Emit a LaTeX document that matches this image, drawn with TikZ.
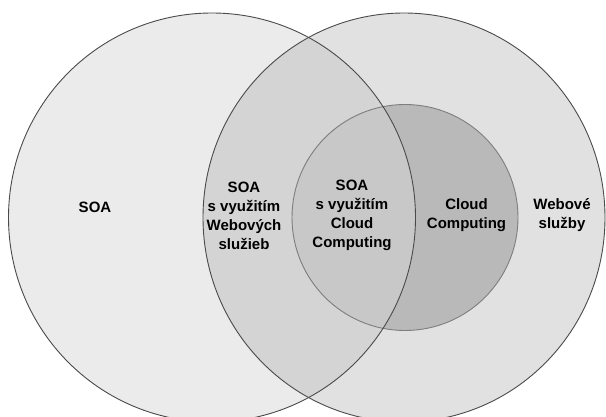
\documentclass[tikz,border=0pt]{standalone}
\usepackage{fontspec}
\setmainfont{Liberation Sans}
\definecolor{cleft}{HTML}{EBEBEB}
\definecolor{cright}{HTML}{E1E1E1}
\definecolor{cboth}{HTML}{D4D4D4}
\definecolor{cinboth}{HTML}{C8C8C8}
\definecolor{cinright}{HTML}{B9B9B9}
\definecolor{cline}{HTML}{4A4A4A}
\definecolor{cinline}{HTML}{7E7E7E}
\tikzset{
  lbl/.style={align=center, font=\fontsize{15}{19}\selectfont\bfseries, inner sep=0pt},
  outline/.style={draw=cline, line width=0.9pt},
  inoutline/.style={draw=cinline, line width=0.9pt}
}
\begin{document}
\begin{tikzpicture}[x=1pt,y=-1pt]
\useasboundingbox (0,0) rectangle (606,417);
\def\leftell{(212,217.5) ellipse [x radius=203.5, y radius=204.5]}
\def\rightell{(404,217.5) ellipse [x radius=201, y radius=204.5]}
\def\innerc{(405,217.5) circle [radius=113]}
\fill[cleft] \leftell;
\fill[cright] \rightell;
\begin{scope}
  \clip \leftell;
  \fill[cboth] \rightell;
\end{scope}
\fill[cinright] \innerc;
\begin{scope}
  \clip \leftell;
  \fill[cinboth] \innerc;
\end{scope}
\draw[inoutline] \innerc;
\draw[outline] \leftell;
\draw[outline] \rightell;
\node[lbl] (soa) at (95,207) {SOA};
\node[lbl] (soaws) at (244,215.5) {SOA\\s využitím\\Webových\\služieb};
\node[lbl] (soacc) at (352,215.5) {SOA\\s využitím\\Cloud\\Computing};
\node[lbl] (cc) at (466.5,215.5) {Cloud\\Computing};
\node[lbl] (ws) at (562,215.5) {Webové\\služby};
\end{tikzpicture}
\end{document}
